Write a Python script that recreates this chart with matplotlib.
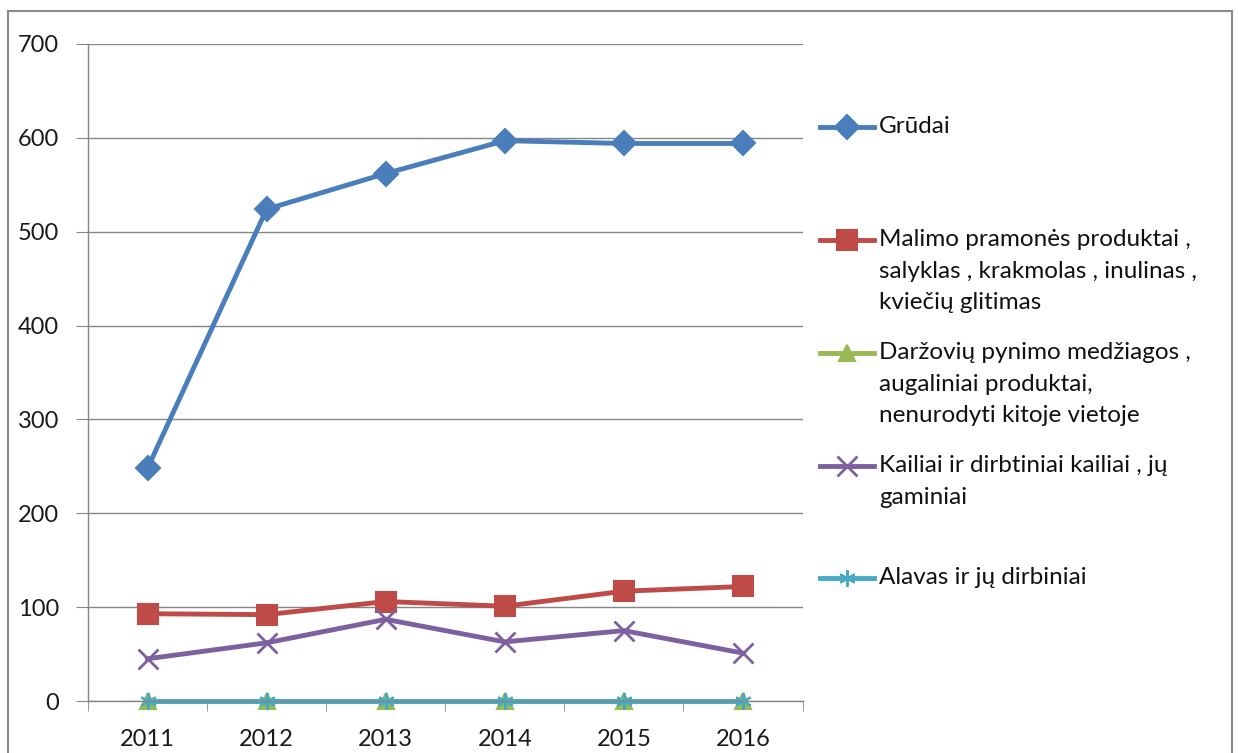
import matplotlib.pyplot as plt
from matplotlib.lines import Line2D
from matplotlib.patches import Rectangle

plt.rcParams['font.family'] = ['Lato', 'DejaVu Sans']

years = ['2011', '2012', '2013', '2014', '2015', '2016']
grudai = [248, 524, 562, 597, 594, 594]
malimo = [93, 92, 106, 101, 117, 122]
darzoviu = [0, 0, 0, 0, 0, 0]
kailiai = [45, 62, 87, 63, 75, 51]
alavas = [0, 0, 0, 0, 0, 0]

labels = [
    'Grūdai',
    'Malimo pramonės produktai ,\nsalyklas , krakmolas , inulinas ,\nkviečių glitimas',
    'Daržovių pynimo medžiagos ,\naugaliniai produktai,\nnenurodyti kitoje vietoje',
    'Kailiai ir dirbtiniai kailiai , jų\ngaminiai',
    'Alavas ir jų dirbiniai',
]
colors = ['#4a7ebb', '#be4b48', '#98b954', '#7d60a0', '#46aac5']
markers = ['D', 's', '^', 'x', (6, 2, 0)]
msizes = [12, 14, 11, 14, 12]
mews = [1.5, 1.5, 1.5, 2, 1.5]
series = [grudai, malimo, darzoviu, kailiai, alavas]

fig = plt.figure(figsize=(12.38, 7.53), dpi=100)
ax = fig.add_axes([88 / 1238, 1 - 701 / 753, (802.5 - 88) / 1238, (701 - 44) / 753])

x = range(len(years))
for vals, c, m, ms, mew in zip(series, colors, markers, msizes, mews):
    ax.plot(x, vals, color=c, lw=3.5, marker=m, markersize=ms,
            markeredgewidth=mew, clip_on=False)

ax.set_xlim(-0.5, len(years) - 0.5)
ax.set_ylim(0, 700)
ax.set_yticks(range(0, 701, 100))
ax.grid(axis='y', color='#868686', lw=1)
ax.set_axisbelow(True)
ax.set_xticks(list(x))
ax.set_xticklabels(years)
ax.set_xticks([i - 0.5 for i in range(len(years) + 1)], minor=True)
ax.tick_params(axis='x', which='major', length=0, pad=20, labelsize=17, colors='#1a1a1a')
ax.tick_params(axis='x', which='minor', length=7, color='#868686', direction='out')
ax.tick_params(axis='y', length=9, color='#868686', pad=12, labelsize=17, labelcolor='#1a1a1a')
for s in ['top', 'right']:
    ax.spines[s].set_visible(False)
for s in ['left', 'bottom']:
    ax.spines[s].set_color('#868686')
    ax.spines[s].set_linewidth(1)

# legend drawn by hand, entries spaced evenly like Excel
W, H = 1238, 753
first_y = [127, 240, 353, 466, 578]
for lab, c, m, ms, mew, yy in zip(labels, colors, markers, msizes, mews, first_y):
    fy = 1 - yy / H
    fig.add_artist(Line2D([820 / W, 874 / W], [fy, fy], color=c, lw=3.5))
    fig.add_artist(Line2D([847 / W], [fy], color=c, marker=m, markersize=ms,
                          markeredgewidth=mew))
    fig.text(879 / W, fy + 11 / H, lab, fontsize=17.5, color='#111111',
             va='top', ha='left', linespacing=1.62)

fig.add_artist(Rectangle((8 / W, -0.05), (1232 - 8) / W, 1 - 11 / H + 0.05,
                         fill=False, edgecolor='#8a8a8a', lw=1.5))

fig.savefig('out.png', dpi=100)
